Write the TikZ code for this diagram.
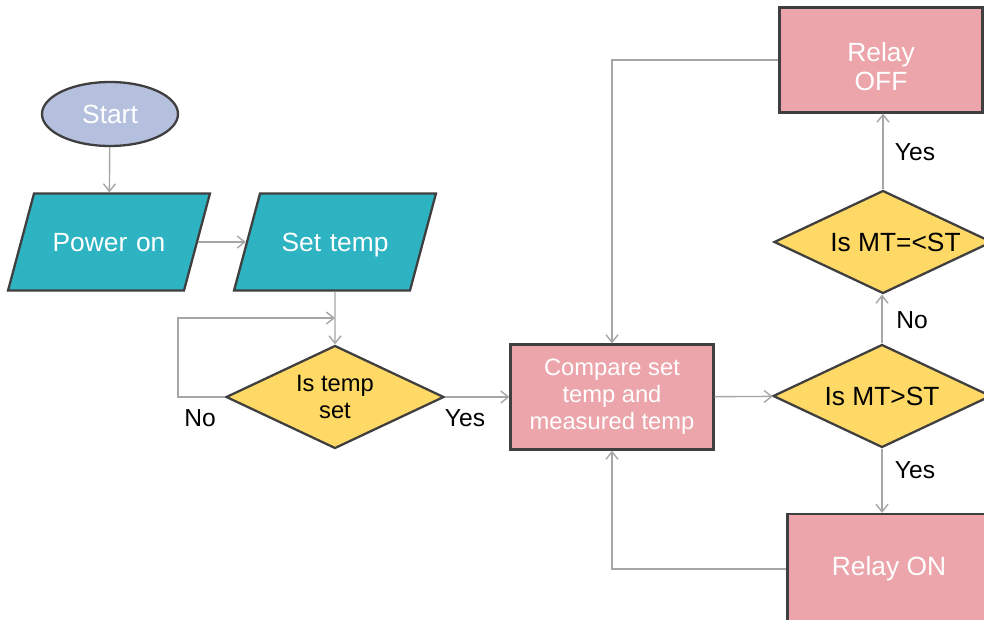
\documentclass[tikz,border=0pt]{standalone}
\usepackage{fontspec}
\setmainfont{Liberation Sans}
\usetikzlibrary{shapes.geometric,arrows.meta,positioning,calc}

\definecolor{startblue}{HTML}{B4C0DE}
\definecolor{ioteal}{HTML}{2DB3C1}
\definecolor{decyellow}{HTML}{FFD966}
\definecolor{relaypink}{HTML}{EBA5AB}
\definecolor{edgegray}{HTML}{3F3F3F}
\definecolor{linegray}{HTML}{A6A6A6}

\tikzset{
  base/.style={draw=edgegray, line width=1.3pt, inner sep=0pt, align=center},
  startbox/.style={base, ellipse, fill=startblue, text=white,
    minimum width=2.72cm, minimum height=1.28cm, font=\fontsize{15}{18}\selectfont},
  iobox/.style={base, trapezium, trapezium left angle=75, trapezium right angle=105,
    fill=ioteal, text=white, inner xsep=0pt, inner ysep=0.69cm,
    text width=3.0cm, text height=0.46cm, text depth=0.1cm, font=\fontsize{15}{18}\selectfont},
  decbox/.style={base, diamond, aspect=2, fill=decyellow, text=black,
    minimum width=4.36cm, minimum height=2.06cm},
  relaybox/.style={base, rectangle, fill=relaypink, text=white,
    minimum width=4.06cm, minimum height=2.1cm, font=\fontsize{15}{17}\selectfont},
  conn/.style={draw=linegray, line width=0.8pt, -{Straight Barb[length=1.5mm,width=2.4mm]}},
  lbl/.style={font=\fontsize{14}{17}\selectfont, text=black}
}

\begin{document}
\begin{tikzpicture}[x=0.02cm, y=-0.02cm]
  \useasboundingbox (0,0) rectangle (984,619);
  \clip (0,0) rectangle (984,619);
  % Input side
  \node[startbox] (start) at (110,114) {Start};
  \node[iobox] (power) at (109,242) {Power on};
  \node[iobox] (settemp) at (335,242) {Set temp};
  \node[decbox, font=\fontsize{13.5}{15.5}\selectfont] (istemp) at (335,397) {Is temp\\set};
  % Control side
  \node[relaybox, font=\fontsize{13.5}{15.4}\selectfont] (compare) at (612,397) {Compare set\\temp and\\measured temp};
  \node[decbox, font=\fontsize{15}{18}\selectfont] (mtgt) at (882,396) {Is MT>ST};
  \node[decbox, font=\fontsize{15}{18}\selectfont] (mtle) at (883,242) {\hspace*{0.5cm}Is MT=<ST};
  \node[relaybox, text height=1.24cm] (relayoff) at (881,60) {Relay\\OFF};
  \node[relaybox, minimum height=2.2cm] (relayon) at (889,569) {Relay ON};
  % Connectors
  \coordinate (loopin) at ($(settemp.south)!0.5!(istemp.north)$);
  \draw[conn] (start) -- (power);
  \draw[conn] (power) -- (settemp);
  \draw[conn] (settemp) -- (istemp);
  \draw[conn] (istemp.west) -- ++(-47,0) |- (loopin);
  \draw[conn] (istemp) -- (compare);
  \draw[conn] (compare) -- (mtgt);
  \draw[conn] (mtgt.north) -- (mtgt.north |- mtle.south);
  \draw[conn] (mtle.north) -- (mtle.north |- relayoff.south);
  \draw[conn] (mtgt.south) -- (mtgt.south |- relayon.north);
  \draw[conn] (relayoff.west) -| (compare.north);
  \draw[conn] (relayon.west) -| (compare.south);
  % Labels
  \node[lbl] (nolbl) at (200,418) {No};
  \node[lbl] (yeslbl) at (465,418) {Yes};
  \node[lbl] (nomt) at (912,320) {No};
  \node[lbl] (yesoff) at (915,152) {Yes};
  \node[lbl] (yeson) at (915,470) {Yes};
\end{tikzpicture}
\end{document}
